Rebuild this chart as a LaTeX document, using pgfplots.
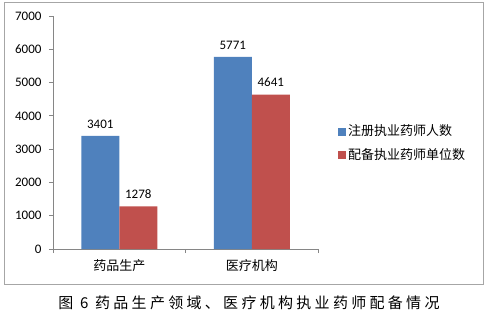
\documentclass[border=0pt]{standalone}
\usepackage{pgfplots}
\pgfplotsset{compat=1.18}
\usepackage{fontspec}
\setmainfont{Carlito}
\newfontfamily\cjk{Noto Sans CJK SC}
\newfontfamily\capfont[LetterSpace=22]{Noto Sans CJK SC}
\definecolor{cblue}{HTML}{4F81BD}
\definecolor{cred}{HTML}{C0504D}
\definecolor{axgray}{HTML}{868686}
\definecolor{framegray}{HTML}{A6A6A6}
\begin{document}
\begin{tikzpicture}[x=1pt,y=1pt]
\useasboundingbox (0,0) rectangle (489,317);
\draw[framegray, line width=1pt] (4.5,33) rectangle (483,315);
\begin{axis}[
  at={(53pt,68pt)}, anchor=south west,
  scale only axis, width=265pt, height=233pt,
  ybar=0pt, bar width=38pt,
  xmin=-0.5, xmax=1.5, ymin=0, ymax=7000,
  axis x line*=bottom, axis y line*=left,
  axis line style={axgray, line width=0.8pt},
  xtick={0,1}, xticklabels={{\cjk 药品生产},{\cjk 医疗机构}},
  major x tick style={draw=none},
  minor xtick={-0.5,0.5,1.5},
  minor x tick style={axgray, line width=0.8pt},
  ytick={0,1000,...,7000},
  y tick style={axgray, line width=0.8pt},
  tick align=outside, major tick length=4pt, minor tick length=4pt,
  scaled y ticks=false,
  /pgf/number format/assume math mode=true,
  /pgf/number format/1000 sep={},
  tick label style={font=\fontsize{13}{15}\selectfont, text=black},
  y tick label style={xshift=-4pt},
  x tick label style={yshift=-3pt},
  nodes near coords,
  nodes near coords style={font=\fontsize{13}{15}\selectfont, text=black, yshift=4pt},
  legend style={draw=none, fill=none, font=\cjk\fontsize{13}{15}\selectfont,
    at={(1.075,0.455)}, anchor=west, legend cell align=left, row sep=7pt, inner sep=0pt},
  legend image code/.code={\fill[#1] (0pt,-4.5pt) rectangle (8pt,3.5pt);},
  clip=false,
]
\addplot[fill=cblue, draw=none] coordinates {(0,3401) (1,5771)};
\addplot[fill=cred, draw=none] coordinates {(0,1278) (1,4641)};
\legend{注册执业药师人数, 配备执业药师单位数}
\end{axis}
\node[font=\capfont\fontsize{15}{18}\selectfont] at (249,14) {图 6 药品生产领域、医疗机构执业药师配备情况};
\end{tikzpicture}
\end{document}
